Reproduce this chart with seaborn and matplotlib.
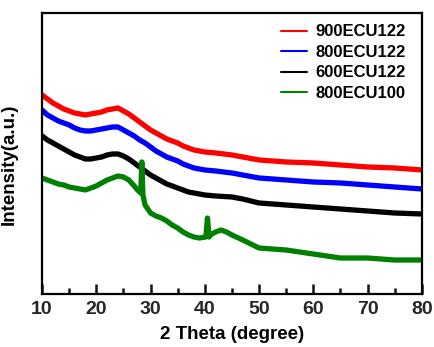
import matplotlib
matplotlib.use("Agg")
import matplotlib.pyplot as plt
import seaborn as sns
import pandas as pd
from matplotlib.ticker import MultipleLocator

# ---- data (pixel-read intensities, arbitrary units; higher = up) ----
theta = [10, 11, 12, 13, 14, 15, 16, 17, 18, 19, 20, 21, 22, 23, 24, 25, 26, 27, 28, 29, 30,
         31, 32, 33, 34, 35, 36, 37, 38, 39, 40, 42, 45, 47, 50, 55, 60, 65, 70, 75, 80]
red_px = [95, 99, 103, 106, 109, 111, 113, 114, 115, 114, 113, 112, 110, 109, 108, 111, 114, 118, 122, 126, 130,
          133, 136, 139, 141, 143, 146, 148, 150, 151, 152, 153, 155, 157, 160, 162, 163, 165, 167, 168, 170]
blue_px = [110, 115, 118, 121, 123, 125, 128, 130, 131, 131, 130, 129, 128, 127, 127, 130, 133, 136, 140, 143, 147,
           151, 154, 157, 159, 161, 164, 166, 168, 169, 170, 171, 173, 175, 178, 180, 182, 183, 185, 187, 189]
black_px = [136, 140, 143, 146, 149, 152, 155, 157, 159, 159, 158, 157, 155, 154, 154, 156, 159, 163, 167, 171, 175,
            178, 181, 184, 186, 188, 190, 192, 193, 194, 195, 196, 197, 199, 203, 205, 207, 209, 211, 213, 214]
green_theta = [10, 11, 12, 13, 14, 15, 16, 17, 18, 19, 20, 21, 22, 23, 24, 25, 26, 27, 27.6, 28.2, 28.4, 28.6,
               29, 30, 31, 32, 33, 34, 35, 36, 37, 38, 39, 40.2, 40.5, 40.8, 41, 42, 43, 44, 45, 47, 50,
               55, 60, 65, 70, 75, 80]
green_px = [178, 180, 182, 184, 185, 187, 188, 189, 190, 188, 186, 183, 180, 178, 176, 177, 180, 186, 190, 193, 162, 195,
            205, 213, 216, 218, 221, 225, 228, 232, 235, 237, 238, 237, 218, 237, 235, 232, 230, 232, 235, 240, 248,
            250, 254, 258, 258, 260, 260]

labels = ["900ECU122", "800ECU122", "600ECU122", "800ECU100"]
colors = ["#ff0000", "#0000ff", "#000000", "#008000"]
x_ticks = [10, 20, 30, 40, 50, 60, 70, 80]

BASE = 294  # convert pixel rows to upward intensity
rows = []
for lab, xs, ys in [(labels[0], theta, red_px), (labels[1], theta, blue_px),
                    (labels[2], theta, black_px), (labels[3], green_theta, green_px)]:
    for xv, yv in zip(xs, ys):
        rows.append({"theta": xv, "intensity": BASE - yv, "sample": lab})
df = pd.DataFrame(rows)

sns.set_theme(style="ticks")
plt.rcParams["font.family"] = ["Liberation Sans", "DejaVu Sans"]
plt.rcParams["font.weight"] = "bold"

fig = plt.figure(figsize=(4.34, 3.47), dpi=100)
ax = fig.add_axes([0.0968, 0.1527, 0.875, 0.81])

sns.lineplot(data=df, x="theta", y="intensity", hue="sample", hue_order=labels,
             palette=colors, estimator=None, sort=False, linewidth=3.8, ax=ax)

ax.set_xlim(10, 80)
ax.set_ylim(0, 281)
ax.set_xticks(x_ticks)
ax.xaxis.set_minor_locator(MultipleLocator(5))
ax.set_yticks([])
ax.tick_params(axis="x", which="major", direction="in", length=7, width=1.8,
               color="#111111", labelsize=14, pad=5, top=False)
ax.tick_params(axis="x", which="minor", direction="in", length=4.5, width=1.8,
               color="#111111", top=False)
for sp in ax.spines.values():
    sp.set_linewidth(1.6)
    sp.set_color("black")

ax.set_xlabel("2 Theta (degree)", fontsize=13.5, fontweight="bold", labelpad=6, color="black")
ax.set_ylabel("Intensity(a.u.)", fontsize=13.5, fontweight="bold", labelpad=8, color="black")
ax.yaxis.set_label_coords(-0.065, 0.46)

leg = ax.legend(loc="upper right", frameon=False, fontsize=12, handlelength=1.6,
                handletextpad=0.5, labelspacing=0.33, borderaxespad=0.2,
                bbox_to_anchor=(0.985, 0.995))
for h in leg.get_lines():
    h.set_linewidth(1.5)
for t in leg.get_texts():
    t.set_fontweight("bold")
    t.set_color("black")

fig.savefig("out.png", dpi=100)
